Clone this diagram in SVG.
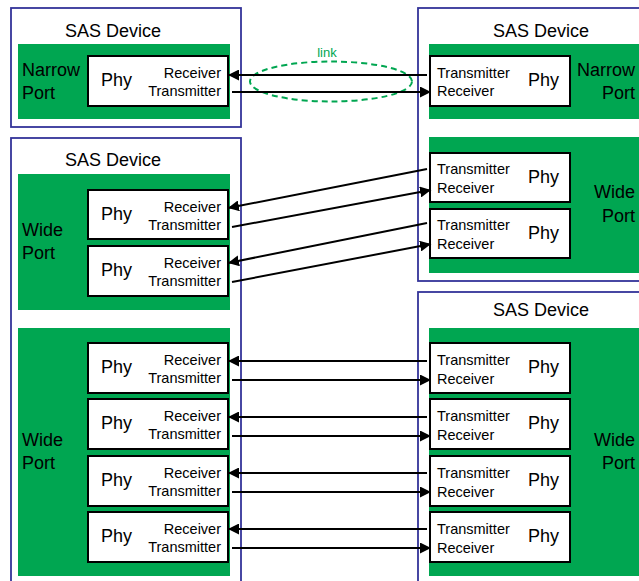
<svg xmlns="http://www.w3.org/2000/svg" width="639" height="581" viewBox="0 0 639 581">
<style>
.dev{fill:none;stroke:#333399;stroke-width:1.8}
.port{fill:#00A651;stroke:none}
.phy{fill:#fff;stroke:#000;stroke-width:2}
.t{font-family:"Liberation Sans",Arial,sans-serif;fill:#000}
.big{font-size:18px}
.sm{font-size:14.5px}
.r{text-anchor:end}
.m{text-anchor:middle}
.ln{stroke:#000;stroke-width:2;fill:none;marker-end:url(#ah)}
</style>
<defs>
<marker id="ah" markerUnits="userSpaceOnUse" markerWidth="11" markerHeight="11" viewBox="0 0 11 11" refX="11" refY="5.5" orient="auto">
<path d="M0,0 L11,5.5 L0,11 z" fill="#000"/>
</marker>
</defs>
<rect width="639" height="581" fill="#fff"/>

<g id="dev-tl">
<rect class="dev" x="11" y="8" width="230" height="119"/>
<text class="t big m" x="113" y="37">SAS Device</text>
<rect class="port" x="18" y="44" width="212" height="75"/>
<text class="t big" x="22" y="76">Narrow</text>
<text class="t big" x="22" y="99">Port</text>
</g>
<g id="phy-tl"><rect class="phy" x="88" y="56" width="140" height="50"/>
<text class="t big" x="101" y="86">Phy</text>
<text class="t sm r" x="221" y="78">Receiver</text>
<text class="t sm r" x="221" y="96">Transmitter</text></g>

<g id="dev-tr">
<rect class="dev" x="418" y="8" width="240" height="273"/>
<text class="t big m" x="541" y="37">SAS Device</text>
<rect class="port" x="429" y="44" width="220" height="75"/>
<text class="t big r" x="635" y="76">Narrow</text>
<text class="t big r" x="635" y="99">Port</text>
<rect class="port" x="429" y="137" width="220" height="136"/>
<text class="t big r" x="635" y="198">Wide</text>
<text class="t big r" x="635" y="222">Port</text>
</g>
<g id="phy-tr1"><rect class="phy" x="430" y="56" width="140" height="50"/>
<text class="t big" x="528" y="86">Phy</text>
<text class="t sm" x="437" y="78">Transmitter</text>
<text class="t sm" x="437" y="96">Receiver</text></g>
<g id="phy-tr2"><rect class="phy" x="430" y="153" width="140" height="49"/>
<text class="t big" x="528" y="183">Phy</text>
<text class="t sm" x="437" y="174">Transmitter</text>
<text class="t sm" x="437" y="193">Receiver</text></g>
<g id="phy-tr3"><rect class="phy" x="430" y="209" width="140" height="49"/>
<text class="t big" x="528" y="239">Phy</text>
<text class="t sm" x="437" y="230">Transmitter</text>
<text class="t sm" x="437" y="249">Receiver</text></g>

<g id="dev-l">
<rect class="dev" x="11" y="138" width="230" height="460"/>
<text class="t big m" x="113" y="166">SAS Device</text>
<rect class="port" x="18" y="174" width="212" height="136"/>
<text class="t big" x="22" y="236">Wide</text>
<text class="t big" x="22" y="259">Port</text>
<rect class="port" x="18" y="328" width="212" height="248"/>
<text class="t big" x="22" y="446">Wide</text>
<text class="t big" x="22" y="469">Port</text>
</g>
<g id="phy-l1"><rect class="phy" x="88" y="190" width="140" height="49"/>
<text class="t big" x="101" y="220">Phy</text>
<text class="t sm r" x="221" y="212">Receiver</text>
<text class="t sm r" x="221" y="230">Transmitter</text></g>
<g id="phy-l2"><rect class="phy" x="88" y="246" width="140" height="50"/>
<text class="t big" x="101" y="276">Phy</text>
<text class="t sm r" x="221" y="268">Receiver</text>
<text class="t sm r" x="221" y="286">Transmitter</text></g>
<g id="phy-l3"><rect class="phy" x="88" y="343" width="140" height="50"/>
<text class="t big" x="101" y="373">Phy</text>
<text class="t sm r" x="221" y="365">Receiver</text>
<text class="t sm r" x="221" y="383">Transmitter</text></g>
<g id="phy-l4"><rect class="phy" x="88" y="399" width="140" height="50"/>
<text class="t big" x="101" y="429">Phy</text>
<text class="t sm r" x="221" y="421">Receiver</text>
<text class="t sm r" x="221" y="439">Transmitter</text></g>
<g id="phy-l5"><rect class="phy" x="88" y="456" width="140" height="50"/>
<text class="t big" x="101" y="486">Phy</text>
<text class="t sm r" x="221" y="478">Receiver</text>
<text class="t sm r" x="221" y="496">Transmitter</text></g>
<g id="phy-l6"><rect class="phy" x="88" y="512" width="140" height="50"/>
<text class="t big" x="101" y="542">Phy</text>
<text class="t sm r" x="221" y="534">Receiver</text>
<text class="t sm r" x="221" y="552">Transmitter</text></g>

<g id="dev-br">
<rect class="dev" x="418" y="292" width="240" height="300"/>
<text class="t big m" x="541" y="316">SAS Device</text>
<rect class="port" x="429" y="328" width="220" height="248"/>
<text class="t big r" x="635" y="446">Wide</text>
<text class="t big r" x="635" y="469">Port</text>
</g>
<g id="phy-r3"><rect class="phy" x="430" y="343" width="140" height="50"/>
<text class="t big" x="528" y="373">Phy</text>
<text class="t sm" x="437" y="365">Transmitter</text>
<text class="t sm" x="437" y="384">Receiver</text></g>
<g id="phy-r4"><rect class="phy" x="430" y="399" width="140" height="50"/>
<text class="t big" x="528" y="429">Phy</text>
<text class="t sm" x="437" y="421">Transmitter</text>
<text class="t sm" x="437" y="440">Receiver</text></g>
<g id="phy-r5"><rect class="phy" x="430" y="456" width="140" height="50"/>
<text class="t big" x="528" y="486">Phy</text>
<text class="t sm" x="437" y="478">Transmitter</text>
<text class="t sm" x="437" y="497">Receiver</text></g>
<g id="phy-r6"><rect class="phy" x="430" y="512" width="140" height="50"/>
<text class="t big" x="528" y="542">Phy</text>
<text class="t sm" x="437" y="534">Transmitter</text>
<text class="t sm" x="437" y="553">Receiver</text></g>

<g id="connectors">
<ellipse cx="331" cy="81.5" rx="81" ry="20" fill="none" stroke="#00A651" stroke-width="2" stroke-dasharray="6,4"/>
<text x="327" y="57" font-family="Liberation Sans,Arial,sans-serif" font-size="13" fill="#00A651" text-anchor="middle">link</text>
<line class="ln" x1="427" y1="75" x2="228" y2="75"/>
<line class="ln" x1="232" y1="92" x2="431" y2="92"/>
<line class="ln" x1="427" y1="169" x2="228" y2="208"/>
<line class="ln" x1="232" y1="227" x2="431" y2="190"/>
<line class="ln" x1="427" y1="223" x2="228" y2="263"/>
<line class="ln" x1="232" y1="282" x2="431" y2="244"/>
<line class="ln" x1="427" y1="361" x2="228" y2="361"/>
<line class="ln" x1="232" y1="380" x2="431" y2="380"/>
<line class="ln" x1="427" y1="417" x2="228" y2="417"/>
<line class="ln" x1="232" y1="436" x2="431" y2="436"/>
<line class="ln" x1="427" y1="473" x2="228" y2="473"/>
<line class="ln" x1="232" y1="492" x2="431" y2="492"/>
<line class="ln" x1="427" y1="529" x2="228" y2="529"/>
<line class="ln" x1="232" y1="548" x2="431" y2="548"/>
</g>
</svg>
